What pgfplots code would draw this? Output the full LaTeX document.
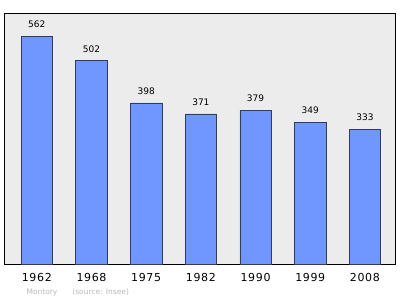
\documentclass[border=0pt]{standalone}
\usepackage{pgfplots}
\pgfplotsset{compat=1.18}
\usepackage{fontspec}
\setmainfont{DejaVu Sans}
\definecolor{bg}{RGB}{236,236,236}
\definecolor{barc}{RGB}{112,150,255}
\definecolor{bare}{RGB}{50,60,90}
\begin{document}
\begin{tikzpicture}
\begin{axis}[name=ax,
  scale only axis, width=391pt, height=251pt,
  xmin=-0.6, xmax=6.55, ymin=0, ymax=620,
  axis background/.style={fill=bg},
  axis line style={black, line width=0.8pt},
  xtick=data, xticklabels={1962,1968,1975,1982,1990,1999,2008},
  ytick=\empty, major tick length=0pt,
  xticklabel style={font=\fontsize{11}{12}\selectfont\addfontfeature{LetterSpace=6}, anchor=center, yshift=-13pt},
  /pgf/number format/assume math mode=true,
  ybar, bar width=31.5pt,
  nodes near coords,
  nodes near coords style={font=\fontsize{9}{10}\selectfont, anchor=center, yshift=12pt, /pgf/number format/fixed},
  ]
\addplot[fill=barc, draw=bare, line width=0.6pt] coordinates {(0,562) (1,502) (2,398) (3,371) (4,379) (5,349) (6,333)};
\end{axis}
\node[font=\fontsize{7.5}{8}\selectfont, text=gray!55, anchor=west] at ([xshift=19pt,yshift=-28pt]ax.south west) {Montory\hspace{2em}(source: Insee)};
\path[use as bounding box] ([xshift=-4pt,yshift=-35pt]ax.south west) rectangle ([xshift=5pt,yshift=13pt]ax.north east);
\end{tikzpicture}
\end{document}
